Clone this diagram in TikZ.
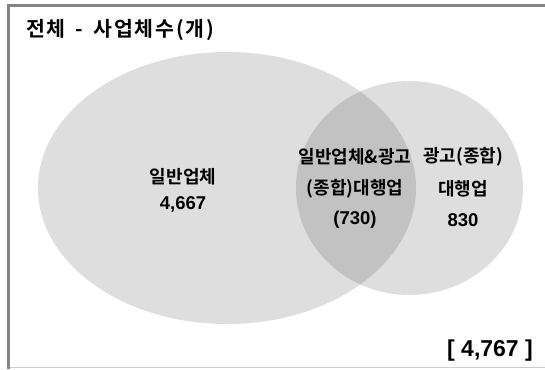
\documentclass[tikz,border=0pt]{standalone}
\usepackage{fontspec}
\setmainfont{Noto Sans CJK KR}[BoldFont={Noto Sans CJK KR Bold}]
\newfontfamily\numfont{Liberation Sans}
\newfontfamily\titlefont{Noto Sans CJK KR Bold}[LetterSpace=9]
\definecolor{framegray}{HTML}{858585}
\definecolor{lightline}{HTML}{CCCCCC}
\definecolor{setfill}{HTML}{DEDEDE}
\definecolor{overlapfill}{HTML}{C2C2C2}
\tikzset{
  lbl/.style={font=\bfseries\fontsize{18}{21}\selectfont, text=black, inner sep=0pt},
  num/.style={font=\numfont\bfseries\fontsize{18.5}{22}\selectfont, text=black, inner sep=0pt},
}
\begin{document}
\begin{tikzpicture}[x=1pt,y=-1pt]
\useasboundingbox (0,0) rectangle (545,369);
\fill[white] (0,0) rectangle (545,369);
% sets
\fill[setfill] (227,188) ellipse [x radius=189, y radius=136];
\fill[setfill] (409.5,188) ellipse [x radius=113.5, y radius=107];
\begin{scope}
  \clip (227,188) ellipse [x radius=189, y radius=136];
  \fill[overlapfill] (409.5,188) ellipse [x radius=113.5, y radius=107];
\end{scope}
% frame
\draw[lightline, line width=0.8pt] (10,367.8) -- (545,367.8);
\draw[framegray, line width=2.8pt] (545,5.8) -- (8.5,5.8) -- (8.5,369);
% title
\node[anchor=west, inner sep=0pt, font=\titlefont\fontsize{20.5}{24}\selectfont] (title) at (26,30) {전체\hspace{10pt}-\hspace{10pt}사업체수(개)};
% labels
\node[lbl] (a1) at (183,177) {일반업체};
\node[num] (a2) at (183,204) {4,667};
\node[lbl] (b1) at (355,157) {일반업체\&광고};
\node[lbl] (b2) at (355,189) {(종합)대행업};
\node[num] (b3) at (355,220) {(730)};
\node[lbl] (c1) at (463,157) {광고(종합)};
\node[lbl] (c2) at (463,189) {대행업};
\node[num] (c3) at (463,220) {830};
\node[num, font=\numfont\bfseries\fontsize{23}{26}\selectfont] (total) at (490,351) {[ 4,767 ]};
\end{tikzpicture}
\end{document}
